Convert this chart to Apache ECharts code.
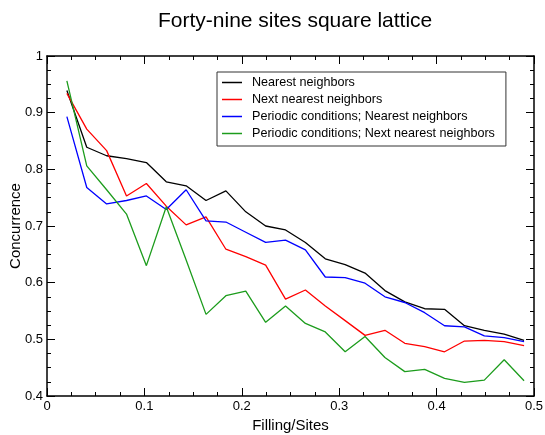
<!DOCTYPE html>
<html>
<head>
<meta charset="utf-8">
<script src="https://cdn.jsdelivr.net/npm/echarts@6/dist/echarts.min.js"></script>
<style>html,body{margin:0;padding:0;background:#fff;}#c{width:545px;height:435px;}</style>
</head>
<body>
<div id="c"></div>
<script>
var fillings = [1/49,2/49,3/49,4/49,5/49,6/49,7/49,8/49,9/49,10/49,11/49,12/49,13/49,14/49,15/49,16/49,17/49,18/49,19/49,20/49,21/49,22/49,23/49,24/49];
var seriesNames = ['Nearest neighbors','Next nearest neighbors','Periodic conditions; Nearest neighbors','Periodic conditions; Next nearest neighbors'];
var nearest = [0.939,0.839,0.824,0.819,0.812,0.778,0.771,0.745,0.762,0.725,0.700,0.693,0.671,0.642,0.632,0.617,0.586,0.566,0.554,0.553,0.524,0.516,0.509,0.498];
var nextNearest = [0.934,0.871,0.833,0.753,0.775,0.735,0.702,0.716,0.659,0.646,0.631,0.571,0.587,0.559,0.533,0.507,0.516,0.493,0.487,0.478,0.497,0.498,0.496,0.489];
var periodicNearest = [0.893,0.768,0.739,0.745,0.753,0.729,0.764,0.709,0.707,0.689,0.671,0.675,0.658,0.610,0.609,0.599,0.575,0.565,0.547,0.524,0.522,0.506,0.503,0.496];
var periodicNext = [0.956,0.806,0.764,0.721,0.630,0.734,0.640,0.544,0.577,0.585,0.530,0.559,0.528,0.513,0.478,0.505,0.468,0.443,0.447,0.431,0.424,0.428,0.464,0.427];
var xTicks = ['0','0.1','0.2','0.3','0.4','0.5'];
var yTicks = ['0.4','0.5','0.6','0.7','0.8','0.9','1'];
var colors = ['#000000','#ff0000','#0000ff','#1c9c1c'];

function pairs(ys){ return fillings.map(function(x,i){ return [x, ys[i]]; }); }
var FONT = 'Liberation Sans';
var chart = echarts.init(document.getElementById('c'), null, {renderer:'canvas'});
var axisCommon = function(){ return {
  axisLine:{show:true, onZero:false, lineStyle:{color:'#000', width:1.5}},
  axisTick:{show:true, inside:true, length:8, lineStyle:{color:'#000', width:1}},
  minorTick:{show:true, splitNumber:4, length:4, lineStyle:{color:'#000', width:1}},
  splitLine:{show:false}
};};
var xa = Object.assign(axisCommon(), {type:'value', min:0, max:0.5, interval:0.1, position:'bottom',
  name:'Filling/Sites', nameLocation:'middle', nameGap:22, nameMoveOverlap:false,
  nameTextStyle:{fontFamily:FONT, fontSize:15, color:'#000'},
  axisLabel:{fontFamily:FONT, fontSize:13, color:'#000', margin:4, formatter:function(v){ return xTicks[Math.round(v*10)]; }}});
var xa2 = Object.assign(axisCommon(), {type:'value', min:0, max:0.5, interval:0.1, position:'top', axisLabel:{show:false}});
var ya = Object.assign(axisCommon(), {type:'value', min:0.4, max:1, interval:0.1, position:'left',
  name:'Concurrence', nameLocation:'middle', nameGap:24, nameRotate:90, nameMoveOverlap:false,
  nameTextStyle:{fontFamily:FONT, fontSize:15, color:'#000'},
  axisLabel:{fontFamily:FONT, fontSize:13, color:'#000', margin:4, formatter:function(v){ return yTicks[Math.round((v-0.4)*10)]; }}});
var ya2 = Object.assign(axisCommon(), {type:'value', min:0.4, max:1, interval:0.1, position:'right', axisLabel:{show:false}});

var seriesData = [nearest, nextNearest, periodicNearest, periodicNext];
chart.setOption({
  animation:false,
  backgroundColor:'#fff',
  title:{text:'Forty-nine sites square lattice', left:153, top:6,
    textStyle:{fontFamily:FONT, fontSize:21, fontWeight:'normal', color:'#000'}},
  grid:{left:47, right:11, top:56, bottom:39, containLabel:false, outerBoundsMode:'none'},
  legend:{orient:'vertical', left:217, top:72, data:seriesNames,
    icon:'rect', itemWidth:20, itemHeight:1.5, itemGap:4,
    borderColor:'#333', borderWidth:1, padding:[4,11,6,5],
    textStyle:{fontFamily:FONT, fontSize:12.6, color:'#000', padding:[0,0,0,5]}},
  xAxis:[xa, xa2],
  yAxis:[ya, ya2],
  series: seriesData.map(function(d,i){ return {
    name:seriesNames[i], type:'line', data:pairs(d), xAxisIndex:0, yAxisIndex:0,
    showSymbol:false, symbol:'none', color:colors[i],
    lineStyle:{color:colors[i], width:1.3}, z:3+i
  };})
});
</script>
</body>
</html>
